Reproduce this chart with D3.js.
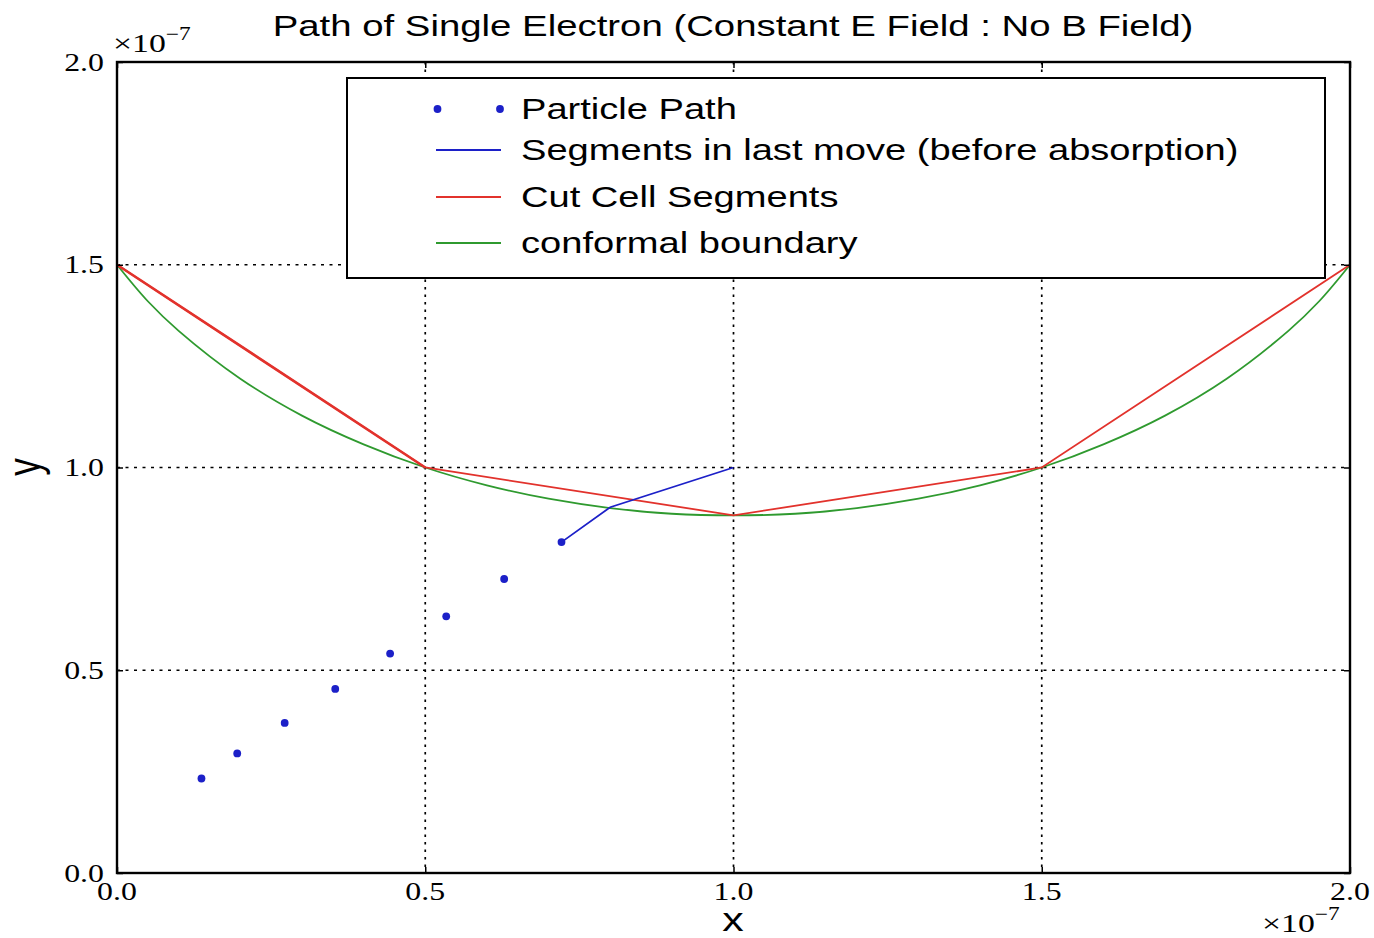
<!DOCTYPE html>
<html>
<head>
<meta charset="utf-8">
<script src="https://cdn.jsdelivr.net/npm/d3@7"></script>
<style>
  body { margin: 0; background: #fff; }
  svg { display: block; }
</style>
</head>
<body>
<div id="chart"></div>
<script>
// values in units of 1e-7
const pathX = [0.137, 0.195, 0.272, 0.354, 0.443, 0.534, 0.628, 0.721];
const pathY = [0.233, 0.295, 0.370, 0.454, 0.541, 0.633, 0.725, 0.816];

const lastMoveX = [0.721, 0.800, 1.000];
const lastMoveY = [0.816, 0.902, 1.000];

const cutX = [0.0, 0.5, 1.0, 1.5, 2.0];
const cutY = [1.5, 1.0, 0.882, 1.0, 1.5];

const boundX = [0.0, 0.05, 0.1, 0.2, 0.3, 0.4, 0.5, 0.6, 0.7, 0.8, 0.9, 1.0,
                1.1, 1.2, 1.3, 1.4, 1.5, 1.6, 1.7, 1.8, 1.9, 1.95, 2.0];
const boundY = [1.500, 1.410, 1.337, 1.219, 1.128, 1.057, 1.000, 0.956, 0.923, 0.900, 0.886, 0.882,
                0.886, 0.900, 0.923, 0.956, 1.000, 1.057, 1.128, 1.219, 1.337, 1.410, 1.500];

const xTicks = [0.0, 0.5, 1.0, 1.5, 2.0];
const yTicks = [0.0, 0.5, 1.0, 1.5, 2.0];

const legendLabels = ["Particle Path", "Segments in last move (before absorption)",
                      "Cut Cell Segments", "conformal boundary"];
const titleText = "Path of Single Electron (Constant E Field : No B Field)";

const W = 1374, H = 938;
const pLeft = 117, pRight = 1350, pTop = 62, pBottom = 873;
const SX = 1.3; // picture is stretched sideways, text too
const blue = "#1c20c8", red = "#e2322c", green = "#2f9a2f";
const sans = "'Liberation Sans', Arial, sans-serif";
const serif = "'Liberation Serif', 'Times New Roman', serif";

const svg = d3.select('#chart').append('svg')
    .attr('width', W).attr('height', H);

const x = d3.scaleLinear().domain([0, 2]).range([pLeft, pRight]);
const y = d3.scaleLinear().domain([0, 2]).range([pBottom, pTop]);

function stext(g, str, px, py, size, font, anchor) {
  return g.append('text')
    .attr('transform', `translate(${px},${py}) scale(${SX},1)`)
    .attr('text-anchor', anchor || 'start')
    .style('font-family', font)
    .style('font-size', size + 'px')
    .attr('fill', '#000')
    .text(str);
}

// grid
const grid = svg.append('g');
grid.selectAll('line.gx').data(xTicks.slice(1, -1)).enter().append('line')
  .attr('x1', d => x(d)).attr('x2', d => x(d))
  .attr('y1', pTop).attr('y2', pBottom)
  .attr('stroke', '#000').attr('stroke-width', 1.7)
  .attr('stroke-dasharray', '2.5,5');
grid.selectAll('line.gy').data(yTicks.slice(1, -1)).enter().append('line')
  .attr('x1', pLeft).attr('x2', pRight)
  .attr('y1', d => y(d)).attr('y2', d => y(d))
  .attr('stroke', '#000').attr('stroke-width', 1.7)
  .attr('stroke-dasharray', '3,5.5');

// data
const line = d3.line().x(d => x(d[0])).y(d => y(d[1]));

svg.append('path')
  .datum(boundX.map((v, i) => [v, boundY[i]]))
  .attr('d', line.curve(d3.curveCatmullRom))
  .attr('fill', 'none').attr('stroke', green).attr('stroke-width', 1.8);

line.curve(d3.curveLinear);
svg.append('path')
  .datum(cutX.map((v, i) => [v, cutY[i]]))
  .attr('d', line)
  .attr('fill', 'none').attr('stroke', red).attr('stroke-width', 1.8);
// first cut segment drawn twice in the original, looks heavier
svg.append('path')
  .datum(cutX.slice(0, 2).map((v, i) => [v, cutY[i]]))
  .attr('d', line)
  .attr('fill', 'none').attr('stroke', red).attr('stroke-width', 2.6);

svg.append('path')
  .datum(lastMoveX.map((v, i) => [v, lastMoveY[i]]))
  .attr('d', line)
  .attr('fill', 'none').attr('stroke', blue).attr('stroke-width', 1.8);

svg.selectAll('circle.pt').data(pathX).enter().append('circle')
  .attr('cx', d => x(d))
  .attr('cy', (d, i) => y(pathY[i]))
  .attr('r', 3.9)
  .attr('fill', blue);

// frame + inward ticks
svg.append('rect')
  .attr('x', pLeft).attr('y', pTop)
  .attr('width', pRight - pLeft).attr('height', pBottom - pTop)
  .attr('fill', 'none').attr('stroke', '#000').attr('stroke-width', 2.4);

const tk = 6;
svg.append('g').attr('transform', `translate(0,${pBottom})`)
  .call(d3.axisBottom(x).tickValues(xTicks).tickSize(-tk).tickFormat(''))
  .call(g => g.select('.domain').remove());
svg.append('g').attr('transform', `translate(0,${pTop})`)
  .call(d3.axisTop(x).tickValues(xTicks).tickSize(-tk).tickFormat(''))
  .call(g => g.select('.domain').remove());
svg.append('g').attr('transform', `translate(${pLeft},0)`)
  .call(d3.axisLeft(y).tickValues(yTicks).tickSize(-tk).tickFormat(''))
  .call(g => g.select('.domain').remove());
svg.append('g').attr('transform', `translate(${pRight},0)`)
  .call(d3.axisRight(y).tickValues(yTicks).tickSize(-tk).tickFormat(''))
  .call(g => g.select('.domain').remove());
svg.selectAll('.tick line').attr('stroke', '#000').attr('stroke-width', 1.5);

// tick labels
const fmt = d3.format('.1f');
const labels = svg.append('g');
xTicks.forEach(t => stext(labels, fmt(t), x(t), 900, 24.5, serif, 'middle'));
yTicks.forEach(t => stext(labels, fmt(t), 104, y(t) + 8.5, 24.5, serif, 'end'));

// offset text x10^-7
function offsetText(px, py) {
  const t = stext(labels, '', px, py, 26, serif, 'start');
  t.append('tspan').text('\u00d710');
  t.append('tspan').attr('dy', -12).style('font-size', '18px').text('\u22127');
}
offsetText(113, 52);
offsetText(1262, 932);

// title and axis labels
stext(svg, titleText, 733, 36, 29.5, sans, 'middle');
stext(svg, 'x', 733, 931, 33, sans, 'middle');
svg.append('text')
  .attr('transform', `translate(40,467) scale(${SX},1) rotate(-90)`)
  .attr('text-anchor', 'middle')
  .style('font-family', sans).style('font-size', '35px')
  .text('y');

// legend
const leg = svg.append('g');
leg.append('rect')
  .attr('x', 347).attr('y', 78).attr('width', 978).attr('height', 200)
  .attr('fill', '#fff').attr('stroke', '#000').attr('stroke-width', 2);

const rowY = [109, 150, 197, 243];
const rowColor = [blue, blue, red, green];
legendLabels.forEach((lab, i) => {
  if (i === 0) {
    [437.5, 500].forEach(cx => leg.append('circle')
      .attr('cx', cx).attr('cy', rowY[i]).attr('r', 3.9).attr('fill', blue));
  } else {
    leg.append('line')
      .attr('x1', 436).attr('x2', 501)
      .attr('y1', rowY[i]).attr('y2', rowY[i])
      .attr('stroke', rowColor[i]).attr('stroke-width', 1.8);
  }
  stext(leg, lab, 521, rowY[i] + 9.5, 29.3, sans, 'start');
});
</script>
</body>
</html>
